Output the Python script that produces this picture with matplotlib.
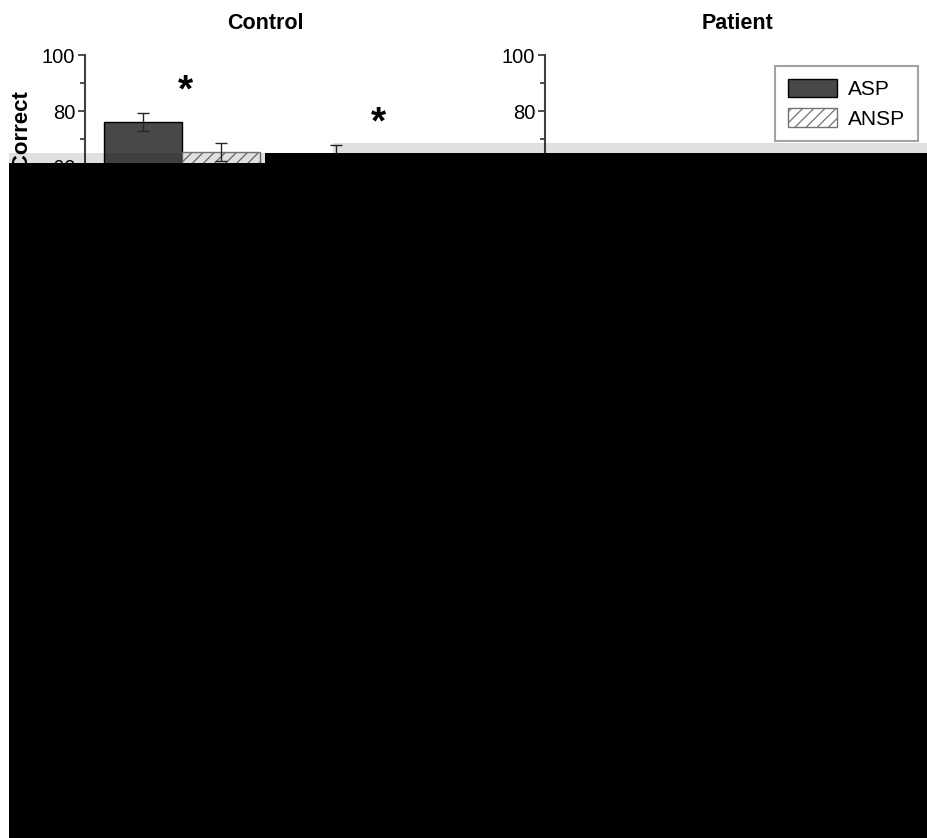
import numpy as np
import matplotlib
matplotlib.use('Agg')
import matplotlib.pyplot as plt
from matplotlib.patches import Rectangle

plt.rcParams['font.family'] = ['Liberation Sans', 'DejaVu Sans']
plt.rcParams['hatch.linewidth'] = 0.9

panels = ['Control', 'Patient']
series = ['ASP', 'ANSP']

# mean % correct, one row per group (values below ~68 are hidden in the source)
control_asp = [76.0, 63.0]
control_ansp = [65.4, 55.0]
control_asp_err = [3.3, 4.8]
control_ansp_err = [3.2, 3.0]
patient_asp = [60.0, 55.0]
patient_ansp = [58.0, 52.0]
patient_asp_err = [4.0, 4.0]
patient_ansp_err = [4.0, 4.0]
control_stars = [True, True]
patient_stars = [False, False]

W, H = 928, 838
fig = plt.figure(figsize=(W / 100, H / 100), dpi=100)

def px_axes(left, top, width, height):
	return fig.add_axes([left / W, 1 - (top + height) / H, width / W, height / H])

ax1 = px_axes(85, 55, 386, 168)
ax2 = px_axes(545, 55, 386, 168)

x = np.arange(2)
bw = 0.404

def draw(ax, asp, ansp, asp_err, ansp_err, stars, title, tx):
	ax.bar(x - bw / 2, asp, bw, color='#484848', edgecolor='black', linewidth=1, label='ASP')
	ax.bar(x + bw / 2, ansp, bw, color='white', edgecolor='0.45', hatch='///', linewidth=1, label='ANSP')
	ax.errorbar(x - bw / 2, asp, yerr=asp_err, fmt='none', ecolor='0.15', elinewidth=1, capsize=4)
	ax.errorbar(x + bw / 2, ansp, yerr=ansp_err, fmt='none', ecolor='0.15', elinewidth=1, capsize=4)
	for i in range(2):
		if stars[i]:
			top = max(asp[i] + asp_err[i], ansp[i] + ansp_err[i])
			ax.text(x[i] + 0.02, top + 7.6, '*', ha='center', va='center', fontsize=28, fontweight='bold')
	ax.set_ylim(40, 100)
	ax.set_xlim(-0.503, 1.5)
	ax.set_yticks([40, 60, 80, 100])
	ax.set_yticks([50, 70, 90], minor=True)
	ax.set_xticks([])
	for s in ['top', 'right']:
		ax.spines[s].set_visible(False)
	ax.spines['left'].set_linewidth(1.5)
	ax.spines['left'].set_color('0.25')
	ax.spines['bottom'].set_linewidth(1.5)
	ax.spines['bottom'].set_color('0.25')
	ax.tick_params(axis='y', which='major', length=5, width=1.3, color='0.25', labelsize=14.5, pad=2)
	ax.tick_params(axis='y', which='minor', length=3.5, width=1.3, color='0.25')
	ax.set_title(title, fontsize=15.5, fontweight='bold', x=tx, pad=19)

draw(ax1, control_asp, control_ansp, control_asp_err, control_ansp_err, control_stars, 'Control', 0.466)
draw(ax2, patient_asp, patient_ansp, patient_asp_err, patient_ansp_err, patient_stars, 'Patient', 0.5)

ax1.set_ylabel('% Correct', fontsize=16, fontweight='bold')
ax1.yaxis.set_label_coords(-0.134, 0.47)

leg = ax2.legend(loc='upper right', bbox_to_anchor=(0.966, 0.9345), borderaxespad=0,
	fancybox=False, edgecolor='0.55', fontsize=15, handlelength=2.35, handleheight=1.0,
	handletextpad=0.55, labelspacing=0.45, borderpad=0.6)
leg.get_frame().set_linewidth(1.5)

# damaged part of the source image: grey bands and solid black block
def px_rect(left, top, width, height, **kw):
	fig.add_artist(Rectangle((left / W, 1 - (top + height) / H), width / W, height / H,
		transform=fig.transFigure, linewidth=0, zorder=50, **kw))

px_rect(9, 153, 256, 10, facecolor='black', alpha=0.12)
px_rect(333, 143, 595, 10, facecolor='black', alpha=0.12)
px_rect(9, 163, 256, H - 163, facecolor='black')
px_rect(265, 153, W - 265, H - 153, facecolor='black')

plt.savefig('out.png', dpi=100)
